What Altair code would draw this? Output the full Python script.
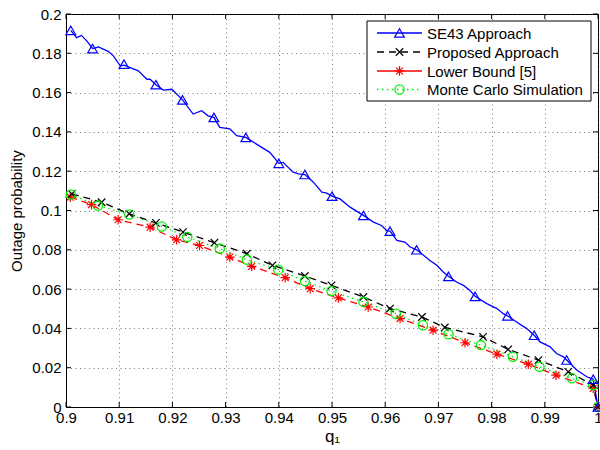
import altair as alt
import pandas as pd

# ---------------- data ----------------
series_names = ["SE43 Approach", "Proposed Approach", "Lower Bound [5]", "Monte Carlo Simulation"]

# SE43 line (dense, jagged)
se43_line_x = [0.9009, 0.9020, 0.9029, 0.9039, 0.9050, 0.9061, 0.9080, 0.9089, 0.9102, 0.9109,
               0.9136, 0.9152, 0.9158, 0.9169, 0.9183, 0.9199, 0.9219, 0.9239, 0.9255, 0.9267,
               0.9278, 0.9289, 0.9308, 0.9321, 0.9338, 0.9358, 0.9383, 0.9396, 0.9400, 0.9408,
               0.9427, 0.9437, 0.9449, 0.9465, 0.9481, 0.9490, 0.9500, 0.9515, 0.9534, 0.9559,
               0.9578, 0.9593, 0.9603, 0.9609, 0.9622, 0.9637, 0.9647, 0.9659, 0.9672, 0.9684,
               0.9697, 0.9709, 0.9719, 0.9734, 0.9747, 0.9759, 0.9769, 0.9791, 0.9810, 0.9822,
               0.9830, 0.9847, 0.9866, 0.9880, 0.9891, 0.9910, 0.9922, 0.9935, 0.9941, 0.9960,
               0.9979, 0.9991, 1.0000]
se43_line_y = [0.1917, 0.1880, 0.1891, 0.1863, 0.1824, 0.1832, 0.1809, 0.1787, 0.1736, 0.1740,
               0.1711, 0.1668, 0.1668, 0.1640, 0.1613, 0.1617, 0.1563, 0.1491, 0.1508, 0.1482,
               0.1474, 0.1423, 0.1415, 0.1381, 0.1372, 0.1338, 0.1296, 0.1254, 0.1240, 0.1245,
               0.1195, 0.1186, 0.1183, 0.1144, 0.1093, 0.1088, 0.1073, 0.1059, 0.1017, 0.0975,
               0.0941, 0.0924, 0.0898, 0.0895, 0.0848, 0.0839, 0.0814, 0.0800, 0.0772, 0.0746,
               0.0721, 0.0687, 0.0665, 0.0636, 0.0619, 0.0594, 0.0563, 0.0526, 0.0501, 0.0475,
               0.0464, 0.0433, 0.0399, 0.0365, 0.0331, 0.0306, 0.0272, 0.0255, 0.0239, 0.0188,
               0.0154, 0.0141, 0.0000]
# SE43 triangle markers
se43_mark_x = [0.9009, 0.9050, 0.9109, 0.9169, 0.9219, 0.9278, 0.9338, 0.9400, 0.9449, 0.9500,
               0.9559, 0.9609, 0.9659, 0.9719, 0.9769, 0.9830, 0.9880, 0.9941, 0.9991, 1.0000]
se43_mark_y = [0.1917, 0.1824, 0.1745, 0.1640, 0.1563, 0.1474, 0.1372, 0.1240, 0.1183, 0.1073,
               0.0975, 0.0895, 0.0800, 0.0665, 0.0563, 0.0464, 0.0365, 0.0239, 0.0141, 0.0000]

# Proposed approach (black dashed, x markers)
prop_x = [0.9011, 0.9067, 0.9119, 0.9169, 0.9220, 0.9279, 0.9340, 0.9388, 0.9449, 0.9499,
          0.9559, 0.9609, 0.9669, 0.9712, 0.9784, 0.9831, 0.9888, 0.9944, 0.9991, 1.0000]
prop_y = [0.1085, 0.1042, 0.0983, 0.0937, 0.0890, 0.0836, 0.0780, 0.0721, 0.0667, 0.0619,
          0.0560, 0.0501, 0.0458, 0.0405, 0.0357, 0.0293, 0.0239, 0.0179, 0.0112, 0.0000]

# Lower bound [5] (red dashed, * markers)
lb_x = [0.9008, 0.9048, 0.9098, 0.9158, 0.9208, 0.9251, 0.9308, 0.9349, 0.9412, 0.9459,
        0.9512, 0.9568, 0.9628, 0.9690, 0.9750, 0.9810, 0.9869, 0.9921, 0.9991, 1.0000]
lb_y = [0.1068, 0.1030, 0.0953, 0.0915, 0.0851, 0.0822, 0.0763, 0.0716, 0.0658, 0.0602,
        0.0555, 0.0509, 0.0450, 0.0391, 0.0327, 0.0269, 0.0218, 0.0162, 0.0095, 0.0000]

# Monte Carlo simulation (green dotted, circles)
mc_x = [0.9009, 0.9060, 0.9119, 0.9180, 0.9228, 0.9289, 0.9340, 0.9399, 0.9449, 0.9499,
        0.9559, 0.9620, 0.9671, 0.9719, 0.9780, 0.9840, 0.9890, 0.9951, 0.9991, 1.0000]
mc_y = [0.1081, 0.1025, 0.0980, 0.0919, 0.0865, 0.0806, 0.0750, 0.0699, 0.0641, 0.0590,
        0.0535, 0.0475, 0.0416, 0.0370, 0.0315, 0.0256, 0.0205, 0.0146, 0.0112, 0.0000]

x_ticks = [0.9, 0.91, 0.92, 0.93, 0.94, 0.95, 0.96, 0.97, 0.98, 0.99, 1.0]
y_ticks = [0, 0.02, 0.04, 0.06, 0.08, 0.1, 0.12, 0.14, 0.16, 0.18, 0.2]

# ---------------- styling ----------------
W, H = 532, 393
FONT = "Liberation Sans"
FS = 15
BLUE, BLACK, RED, GREEN = "#0000ff", "#000000", "#ff0000", "#00ee00"
CROSS = "M -1 -1 L 1 1 M -1 1 L 1 -1"
STAR = "M -1 0 L 1 0 M 0 -1 L 0 1 M -0.72 -0.72 L 0.72 0.72 M -0.72 0.72 L 0.72 -0.72"

x_scale = alt.Scale(domain=[0.9, 1.0], nice=False, zero=False)
y_scale = alt.Scale(domain=[0, 0.2], nice=False)

x_axis = alt.Axis(values=x_ticks, format="~g", title="q₁", ticks=False, grid=True,
                  labelPadding=3, titlePadding=3, titleFontSize=17, labelFlush=False)
y_axis = alt.Axis(values=y_ticks, format="~g", title="Outage probability", ticks=False, grid=True,
                  labelPadding=5, titlePadding=7, labelFlush=False)


def X(field="x"):
    return alt.X(f"{field}:Q", scale=x_scale, axis=x_axis)


def Y(field="y"):
    return alt.Y(f"{field}:Q", scale=y_scale, axis=y_axis)


def df(xs, ys):
    return pd.DataFrame({"x": xs, "y": ys})


layers = []

# tick marks drawn inside the box (MATLAB style)
xt = pd.DataFrame({"t": x_ticks})
yt = pd.DataFrame({"t": y_ticks})
layers.append(alt.Chart(xt).mark_rule(color="black", strokeWidth=1).encode(
    x=X("t"), y=alt.value(H), y2=alt.value(H - 5)))
layers.append(alt.Chart(xt).mark_rule(color="black", strokeWidth=1).encode(
    x=X("t"), y=alt.value(0), y2=alt.value(5)))
layers.append(alt.Chart(yt).mark_rule(color="black", strokeWidth=1).encode(
    y=Y("t"), x=alt.value(0), x2=alt.value(5)))
layers.append(alt.Chart(yt).mark_rule(color="black", strokeWidth=1).encode(
    y=Y("t"), x=alt.value(W - 5), x2=alt.value(W)))

# green Monte Carlo
layers.append(alt.Chart(df(mc_x, mc_y)).mark_line(color=GREEN, strokeWidth=1.3, strokeDash=[1.5, 3.5]).encode(x=X(), y=Y()))
# red lower bound
layers.append(alt.Chart(df(lb_x, lb_y)).mark_line(color=RED, strokeWidth=1.3, strokeDash=[7, 5]).encode(x=X(), y=Y()))
# black proposed
layers.append(alt.Chart(df(prop_x, prop_y)).mark_line(color=BLACK, strokeWidth=1.3, strokeDash=[7, 5]).encode(x=X(), y=Y()))
# blue SE43
layers.append(alt.Chart(df(se43_line_x, se43_line_y)).mark_line(color=BLUE, strokeWidth=1.3).encode(x=X(), y=Y()))

# markers
layers.append(alt.Chart(df(lb_x, lb_y)).mark_point(shape=STAR, size=90, color=RED, filled=False, strokeWidth=1.2, opacity=1).encode(x=X(), y=Y()))
layers.append(alt.Chart(df(prop_x, prop_y)).mark_point(shape=CROSS, size=55, color=BLACK, filled=False, strokeWidth=1.2, opacity=1).encode(x=X(), y=Y()))
layers.append(alt.Chart(df(mc_x, mc_y)).mark_point(shape="circle", size=85, color=GREEN, filled=False, strokeWidth=1.3, opacity=1).encode(x=X(), y=Y()))
layers.append(alt.Chart(df(se43_mark_x, se43_mark_y)).mark_point(shape="triangle-up", size=95, color=BLUE, filled=False, strokeWidth=1.2, opacity=1).encode(x=X(), y=Y()))

# ---------------- legend (drawn by hand, MATLAB style) ----------------
LX0, LX1, LY0, LY1 = 301, 525, 7, 87
entry_y = [19, 38, 57, 75.5]
styles = [
    dict(color=BLUE, dash=None, shape="triangle-up", size=95),
    dict(color=BLACK, dash=[7, 5], shape=CROSS, size=55),
    dict(color=RED, dash=None, shape=STAR, size=90),
    dict(color=GREEN, dash=[1.5, 3.5], shape="circle", size=85),
]
one = pd.DataFrame({"k": [0]})
layers.append(alt.Chart(one).mark_rect(fill="white", stroke="black", strokeWidth=1).encode(
    x=alt.value(LX0), x2=alt.value(LX1), y=alt.value(LY0), y2=alt.value(LY1)))
for name, yy, st in zip(series_names, entry_y, styles):
    rule_kw = dict(color=st["color"], strokeWidth=1.3)
    if st["dash"]:
        rule_kw["strokeDash"] = st["dash"]
    layers.append(alt.Chart(one).mark_rule(**rule_kw).encode(
        x=alt.value(311), x2=alt.value(356), y=alt.value(yy)))
    layers.append(alt.Chart(one).mark_point(shape=st["shape"], size=st["size"], color=st["color"],
                                            filled=False, strokeWidth=1.2, opacity=1).encode(
        x=alt.value(333.5), y=alt.value(yy)))
    layers.append(alt.Chart(pd.DataFrame({"label": [name]})).mark_text(
        align="left", baseline="middle", font=FONT, fontSize=FS, color="black").encode(
        x=alt.value(361), y=alt.value(yy + 0.5), text="label:N"))

chart = alt.layer(*layers).properties(
    width=W, height=H,
    autosize=alt.AutoSizeParams(type="none"),
    padding={"left": 66, "top": 14, "right": 2, "bottom": 43},
).configure_view(
    stroke="black", strokeWidth=1
).configure_axis(
    labelFont=FONT, labelFontSize=FS, labelColor="black",
    titleFont=FONT, titleFontSize=FS, titleFontWeight="normal", titleColor="black",
    domainColor="black", domainWidth=1,
    gridColor="#333333", gridDash=[1, 3.5], gridWidth=0.8, gridOpacity=0.8,
)

chart.save("out.html", embed_options={"renderer": "svg", "actions": False})
